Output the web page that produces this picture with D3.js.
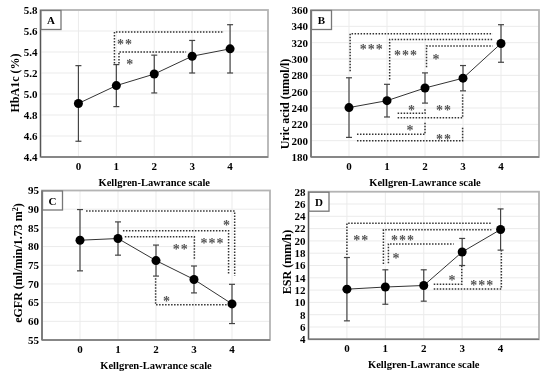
<!DOCTYPE html>
<html>
<head>
<meta charset="utf-8">
<script src="https://cdn.jsdelivr.net/npm/d3@7"></script>
<style>
body { margin: 0; background: #fff; }
svg { will-change: transform; }
svg text { font-family: "Liberation Serif", "Times New Roman", serif; font-weight: bold; }
</style>
</head>
<body>
<script>
// Kellgren-Lawrance grades
var klLevels = [0, 1, 2, 3, 4];

// A: HbA1c
var hba1cMean = [4.91, 5.08, 5.19, 5.36, 5.43];
var hba1cLow = [4.55, 4.88, 5.01, 5.20, 5.20];
var hba1cHigh = [5.27, 5.28, 5.37, 5.51, 5.66];
var hba1cTicks = [4.4, 4.6, 4.8, 5.0, 5.2, 5.4, 5.6, 5.8];
var hba1cBrackets = [
    [[0.95, 5.29], [0.95, 5.59], [3.84, 5.59]],
    [[1.07, 5.29], [1.07, 5.40], [2.84, 5.40]]
];
var hba1cStars = [["**", 1.23, 5.51], ["*", 1.37, 5.32]];

// B: uric acid
var uricMean = [240.5, 249, 264.5, 276.5, 319];
var uricLow = [204, 229, 246, 261, 296];
var uricHigh = [277, 269, 283, 292, 342];
var uricTicks = [180, 200, 220, 240, 260, 280, 300, 320, 340, 360];
var uricBrackets = [
    [[0.03, 285], [0.03, 331], [3.78, 331]],
    [[1.07, 275], [1.07, 324], [3.78, 324]],
    [[2.04, 290], [2.04, 316], [3.78, 316]],
    [[1.28, 233.5], [2.0, 233.5], [2.0, 239]],
    [[1.28, 228], [2.99, 228], [2.99, 256.5]],
    [[0.21, 208], [2.0, 208], [2.0, 222]],
    [[0.21, 200], [2.99, 200], [2.99, 216]]
];
var uricStars = [["***", 0.6, 317], ["***", 1.5, 310], ["*", 2.3, 304],
    ["*", 1.66, 242.5], ["**", 2.5, 242.5], ["*", 1.62, 217], ["**", 2.5, 207]];

// C: eGFR
var egfrMean = [81.7, 82.15, 76.25, 71.2, 64.65];
var egfrLow = [73.5, 77.7, 72.1, 67.6, 59.4];
var egfrHigh = [89.9, 86.6, 80.4, 74.8, 69.9];
var egfrTicks = [55, 60, 65, 70, 75, 80, 85, 90, 95];
var egfrBrackets = [
    [[0.16, 89.5], [4.07, 89.5], [4.07, 72.1]],
    [[1.13, 84.25], [3.91, 84.25], [3.91, 72.4]],
    [[1.18, 82.6], [3.01, 82.6], [3.01, 76.4]],
    [[1.99, 71.5], [1.99, 64.4], [3.86, 64.4]]
];
var egfrStars = [["*", 3.87, 86.7], ["***", 3.49, 82], ["**", 2.65, 80.2], ["*", 2.29, 66.4]];

// D: ESR
var esrMean = [12.15, 12.5, 12.75, 18.2, 21.85];
var esrLow = [7.0, 9.7, 10.2, 16.0, 18.5];
var esrHigh = [17.3, 15.3, 15.3, 20.4, 25.2];
var esrTicks = [4, 6, 8, 10, 12, 14, 16, 18, 20, 22, 24, 26, 28];
var esrBrackets = [
    [[0, 17.7], [0, 22.86], [3.78, 22.86]],
    [[0.95, 16.24], [0.95, 21.8], [3.76, 21.8]],
    [[1.08, 16.35], [1.08, 19.5], [2.78, 19.5]],
    [[2.26, 12.94], [2.99, 12.94], [2.99, 15.9]],
    [[2.26, 12.18], [4.02, 12.18], [4.02, 18.5]]
];
var esrStars = [["**", 0.37, 20.8], ["***", 1.46, 20.7], ["*", 1.29, 17.8],
    ["*", 2.75, 14.2], ["***", 3.52, 13.5]];

var svg = d3.select("body").append("svg")
    .attr("width", 550)
    .attr("height", 379);

function drawPanel(p) {
    var xScale = d3.scaleLinear().domain([-1, 5]).range([p.left, p.right]);
    var yScale = d3.scaleLinear().domain(d3.extent(p.ticks)).range([p.bottom, p.top]);
    var g = svg.append("g");

    // grid
    g.selectAll(".hgrid").data(p.ticks).enter().append("line")
        .attr("x1", p.left).attr("x2", p.right)
        .attr("y1", function(d) { return yScale(d); })
        .attr("y2", function(d) { return yScale(d); })
        .attr("stroke", "#ebebeb").attr("stroke-width", 1);
    g.selectAll(".vgrid").data(klLevels).enter().append("line")
        .attr("x1", function(d) { return xScale(d); })
        .attr("x2", function(d) { return xScale(d); })
        .attr("y1", p.top).attr("y2", p.bottom)
        .attr("stroke", "#ebebeb").attr("stroke-width", 1);

    // frame
    g.append("rect")
        .attr("x", p.left).attr("y", p.top)
        .attr("width", p.right - p.left).attr("height", p.bottom - p.top)
        .attr("fill", "none").attr("stroke", "#b4b4b4").attr("stroke-width", 1.8);
    g.append("line").attr("x1", p.left).attr("x2", p.left)
        .attr("y1", p.top).attr("y2", p.bottom)
        .attr("stroke", "#555").attr("stroke-width", 1.2);
    g.append("line").attr("x1", p.left).attr("x2", p.right)
        .attr("y1", p.bottom).attr("y2", p.bottom)
        .attr("stroke", "#777").attr("stroke-width", 1.4);

    // y tick labels
    g.selectAll(".ytick").data(p.ticks).enter().append("text")
        .attr("x", p.left - 3)
        .attr("y", function(d) { return yScale(d); })
        .attr("dy", "0.35em")
        .attr("text-anchor", "end")
        .attr("font-size", 11)
        .text(function(d) { return p.fmt(d); });

    // x tick labels
    g.selectAll(".xtick").data(klLevels).enter().append("text")
        .attr("x", function(d) { return xScale(d); })
        .attr("y", p.bottom + 13)
        .attr("text-anchor", "middle")
        .attr("font-size", 11)
        .text(function(d) { return d; });

    g.append("text")
        .attr("x", (p.left + p.right) / 2)
        .attr("y", p.bottom + 29)
        .attr("text-anchor", "middle")
        .attr("font-size", 10.5)
        .text("Kellgren-Lawrance scale");

    var yl = g.append("text")
        .attr("transform", "translate(" + p.ylabelX + "," + p.ylabelY + ") rotate(-90)")
        .attr("text-anchor", "middle")
        .attr("dy", "0.35em")
        .attr("font-size", 12);
    p.ylabel(yl);

    // panel letter box
    g.append("rect")
        .attr("x", p.left + 0.5).attr("y", p.top + 0.5)
        .attr("width", 20).attr("height", 19)
        .attr("fill", "#fff").attr("stroke", "#777").attr("stroke-width", 1.3);
    g.append("text")
        .attr("x", p.left + 10.5).attr("y", p.top + 14)
        .attr("text-anchor", "middle")
        .attr("font-size", 11)
        .text(p.letter);

    // significance brackets
    var line = d3.line()
        .x(function(d) { return xScale(d[0]); })
        .y(function(d) { return yScale(d[1]); });
    g.selectAll(".bracket").data(p.brackets).enter().append("path")
        .attr("d", line)
        .attr("fill", "none")
        .attr("stroke", "#333")
        .attr("stroke-width", 1.5)
        .attr("stroke-dasharray", "1.5,1.5");
    g.selectAll(".star").data(p.stars).enter().append("text")
        .attr("x", function(d) { return xScale(d[1]); })
        .attr("y", function(d) { return yScale(d[2]); })
        .attr("dy", "0.62em")
        .attr("text-anchor", "middle")
        .attr("font-size", 14)
        .attr("fill", "#555")
        .attr("letter-spacing", 1)
        .text(function(d) { return d[0]; });

    // error bars
    var rows = klLevels.map(function(k, i) { return [k, p.mean[i], p.low[i], p.high[i]]; });
    g.selectAll(".err").data(rows).enter().append("line")
        .attr("x1", function(d) { return xScale(d[0]); })
        .attr("x2", function(d) { return xScale(d[0]); })
        .attr("y1", function(d) { return yScale(d[2]); })
        .attr("y2", function(d) { return yScale(d[3]); })
        .attr("stroke", "#444").attr("stroke-width", 1.2);
    ["low", "high"].forEach(function(key, j) {
        g.selectAll(".cap" + key).data(rows).enter().append("line")
            .attr("x1", function(d) { return xScale(d[0]) - 3; })
            .attr("x2", function(d) { return xScale(d[0]) + 3; })
            .attr("y1", function(d) { return yScale(d[2 + j]); })
            .attr("y2", function(d) { return yScale(d[2 + j]); })
            .attr("stroke", "#444").attr("stroke-width", 1.2);
    });

    g.append("path")
        .datum(rows)
        .attr("d", d3.line()
            .x(function(d) { return xScale(d[0]); })
            .y(function(d) { return yScale(d[1]); }))
        .attr("fill", "none").attr("stroke", "#333").attr("stroke-width", 1);

    g.selectAll(".pt").data(rows).enter().append("circle")
        .attr("cx", function(d) { return xScale(d[0]); })
        .attr("cy", function(d) { return yScale(d[1]); })
        .attr("r", 4.5)
        .attr("fill", "#000");
}

drawPanel({
    letter: "A", left: 40.5, right: 268, top: 10, bottom: 157,
    ticks: hba1cTicks, fmt: d3.format(".1f"),
    mean: hba1cMean, low: hba1cLow, high: hba1cHigh,
    brackets: hba1cBrackets, stars: hba1cStars,
    ylabelX: 15, ylabelY: 83,
    ylabel: function(t) { t.text("HbA1c (%)"); }
});

drawPanel({
    letter: "B", left: 311, right: 539, top: 10, bottom: 157,
    ticks: uricTicks, fmt: d3.format("d"),
    mean: uricMean, low: uricLow, high: uricHigh,
    brackets: uricBrackets, stars: uricStars,
    ylabelX: 285, ylabelY: 104,
    ylabel: function(t) { t.text("Uric acid (umol/l)"); }
});

drawPanel({
    letter: "C", left: 42, right: 270, top: 190.5, bottom: 340,
    ticks: egfrTicks, fmt: d3.format("d"),
    mean: egfrMean, low: egfrLow, high: egfrHigh,
    brackets: egfrBrackets, stars: egfrStars,
    ylabelX: 18, ylabelY: 263,
    ylabel: function(t) {
        t.append("tspan").text("eGFR (ml/min/1.73 m");
        t.append("tspan").attr("baseline-shift", "super").attr("font-size", 8).text("2");
        t.append("tspan").text(")");
    }
});

drawPanel({
    letter: "D", left: 308.5, right: 539, top: 191.7, bottom: 339.3,
    ticks: esrTicks, fmt: d3.format("d"),
    mean: esrMean, low: esrLow, high: esrHigh,
    brackets: esrBrackets, stars: esrStars,
    ylabelX: 287, ylabelY: 262,
    ylabel: function(t) { t.text("ESR (mm/h)"); }
});
</script>
</body>
</html>
